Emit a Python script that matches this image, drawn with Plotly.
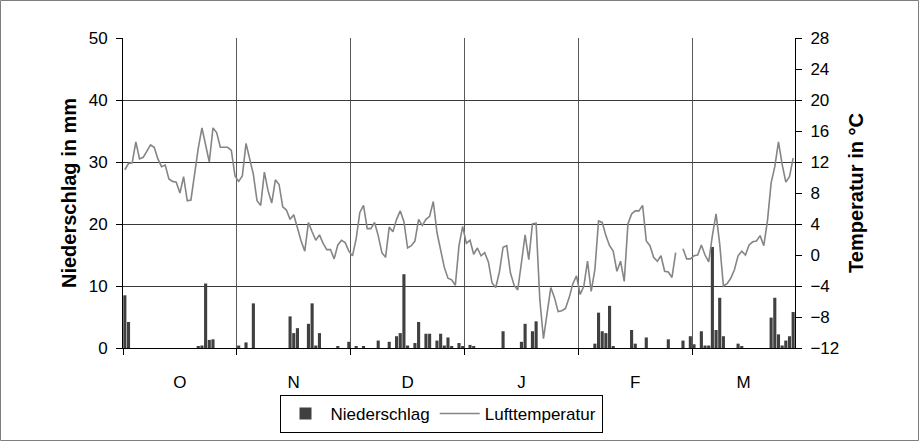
import plotly.graph_objects as go

# ---------------- data ----------------
# daily air temperature (°C), day index 0 = 1 Oct ... 182 = 31 Mar
temp_oct = [11.0, 11.8, 11.9, 14.6, 12.4, 12.6, 13.4, 14.2, 13.9, 12.4,
            11.4, 11.6, 9.8, 9.5, 9.4, 8.0, 10.1, 7.0, 7.1, 10.5,
            13.8, 16.4, 14.0, 12.0, 16.4, 15.8, 13.9, 13.9, 13.9, 13.5,
            10.2]
temp_nov = [9.5, 10.2, 14.4, 12.4, 10.4, 7.0, 6.4, 10.7, 8.3, 6.7,
            9.7, 9.1, 6.2, 5.8, 4.6, 5.2, 3.5, 1.8, 0.5, 4.2,
            3.0, 1.9, 2.6, 1.5, 0.7, 0.7, -0.5, 1.3, 1.9, 1.6]
temp_dec = [0.5, -0.1, 2.1, 5.5, 6.4, 3.4, 3.4, 4.2, 2.5, 0.3,
            -0.3, 3.6, 3.0, 4.6, 5.7, 4.3, 0.9, 1.2, 1.8, 4.6,
            3.8, 4.6, 5.0, 6.9, 2.9, 0.5, -1.6, -3.0, -3.2, -3.9,
            1.2]
temp_jan = [3.7, 1.5, 1.9, 0.1, 0.9, -0.1, 0.3, -0.9, -3.6, -4.2,
            -2.2, 1.0, 1.2, -2.3, -3.9, -4.5, -1.0, 2.6, -0.6, 4.0,
            4.1, -5.7, -10.8, -7.4, -4.2, -5.5, -7.3, -7.2, -6.9, -5.5,
            -3.7]
temp_feb = [-2.7, -5.1, -4.0, -0.8, -4.7, -1.9, 4.4, 4.2, 2.5, 1.2,
            0.5, -2.1, -0.8, -3.4, 4.0, 5.3, 5.7, 5.7, 6.4, 1.8,
            1.2, -0.3, -0.8, -0.1, -2.1, -2.2, -2.9, 0.3, None]
temp_mar = [0.8, -0.5, -0.5, -0.1, 0.0, 1.3, 0.0, -0.9, 2.5, 5.3,
            1.4, -4.0, -3.7, -3.0, -1.9, -0.1, 0.5, 0.0, 1.3, 1.7,
            1.8, 2.5, 1.2, 4.4, 9.3, 11.4, 14.6, 11.7, 9.4, 10.1,
            12.5]
temperature = temp_oct + temp_nov + temp_dec + temp_jan + temp_feb + temp_mar
days = list(range(len(temperature)))

# daily precipitation (mm) on the days with rain
rain_day = [0, 1, 20, 21, 22, 23, 24, 31, 33, 35,
            45, 46, 47, 50, 51, 52, 53, 58,
            61, 63, 65, 69, 72, 74, 75, 76, 77, 79, 80, 82, 83, 85, 86, 87, 88, 89, 91,
            92, 94, 95, 103, 108, 109, 111, 112,
            128, 129, 130, 131, 132, 133, 138, 139, 142, 148,
            152, 154, 155, 157, 158, 159, 160, 161, 162, 163, 167, 168,
            176, 177, 178, 179, 180, 181, 182]
rain_mm = [8.5, 4.2, 0.3, 0.4, 10.4, 1.3, 1.4, 0.4, 0.9, 7.2,
           5.1, 2.4, 3.2, 3.9, 7.2, 0.4, 2.4, 0.3,
           1.0, 0.3, 0.3, 1.2, 1.0, 1.9, 2.4, 11.9, 0.4, 0.8, 4.2, 2.3, 2.3, 1.2, 2.3, 0.4, 1.7, 0.3, 0.8,
           0.3, 0.5, 0.3, 2.7, 1.0, 3.9, 2.7, 4.3,
           0.7, 5.7, 2.7, 2.4, 6.8, 0.3, 2.9, 0.7, 1.7, 1.4,
           1.2, 1.9, 0.6, 2.7, 0.4, 0.4, 16.3, 2.9, 8.1, 1.9, 0.7, 0.3,
           4.9, 8.1, 2.2, 0.4, 1.2, 1.9, 5.8]

month_labels = ["O", "N", "D", "J", "F", "M"]
month_centers = [15, 46, 77, 108, 139, 168.5]
block_start = 30.5      # vertical grid every 31 days
block_len = 31

# ---------------- figure ----------------
W, H = 919, 441
ML, MR, MT, MB = 123, 124, 38, 93
FONT = "Liberation Sans, Arial, sans-serif"

fig = go.Figure()
fig.add_trace(go.Bar(x=rain_day, y=rain_mm, name="Niederschlag",
                     marker=dict(color="#404040", line=dict(width=0)),
                     yaxis="y"))
fig.add_trace(go.Scatter(x=days, y=temperature, name="Lufttemperatur",
                         mode="lines", line=dict(color="#858585", width=1.6),
                         connectgaps=False, yaxis="y2"))

pw, ph = W - ML - MR, H - MT - MB
fig.update_layout(
    width=W, height=H,
    margin=dict(l=ML, r=MR, t=MT, b=MB, autoexpand=False),
    paper_bgcolor="white", plot_bgcolor="white",
    font=dict(family=FONT, size=17, color="black"),
    bargap=0.15,
    showlegend=True,
    legend=dict(orientation="h", xref="container", yref="container",
                x=441 / W, xanchor="center", y=(H - 395) / H, yanchor="top",
                bordercolor="black", borderwidth=1, bgcolor="white",
                font=dict(size=17), itemwidth=40, tracegroupgap=0),
    xaxis=dict(range=[-0.5, 182.5], tickmode="array", tickvals=month_centers,
               ticktext=month_labels, ticks="outside", ticklen=19,
               tickcolor="rgba(0,0,0,0)", showgrid=False, zeroline=False,
               showline=True, linecolor="black", linewidth=1,
               tickfont=dict(size=17), automargin=False,
               minor=dict(tick0=block_start, dtick=block_len, showgrid=True,
                          gridcolor="#5a5a5a", gridwidth=1, ticks="outside",
                          ticklen=6, tickcolor="black")),
    yaxis=dict(range=[0, 50], tickmode="linear", tick0=0, dtick=10,
               showgrid=True, gridcolor="#3a3a3a", gridwidth=1,
               zeroline=False, showline=True, linecolor="black",
               ticks="outside", ticklen=6, tickcolor="black",
               ticklabelstandoff=5, automargin=False,
               tickfont=dict(size=17),
               title=dict(text="<b>Niederschlag in mm</b>", font=dict(size=20),
                          standoff=6)),
    yaxis2=dict(range=[-12, 28], tickmode="linear", tick0=-12, dtick=4,
                overlaying="y", side="right", anchor="x",
                showgrid=False, zeroline=False, showline=True, linecolor="black",
                ticks="outside", ticklen=6, tickcolor="black",
                ticklabelstandoff=5, automargin=False,
                tickfont=dict(size=17),
                title=dict(text="<b>Temperatur in °C</b>", font=dict(size=20),
                           standoff=10)),
    yaxis3=dict(range=[-12, 28], tickmode="linear", tick0=-12, dtick=4,
                overlaying="y", side="right", anchor="x",
                showgrid=False, zeroline=False, showline=False,
                ticks="inside", ticklen=6, tickcolor="black",
                showticklabels=False, automargin=False),
    shapes=[dict(type="rect", xref="paper", yref="paper",
                 x0=(0.5 - ML) / pw, x1=(W - 0.5 - ML) / pw,
                 y0=-(MB - 0.5) / ph, y1=1 + (MT - 0.5) / ph,
                 line=dict(color="#7f7f7f", width=1), layer="below")],
)

# the page body has a default 8px margin; remove it so the figure fills the window
fig.write_html("out.html", config={"displayModeBar": False},
               post_script="document.body.style.margin='0';")
